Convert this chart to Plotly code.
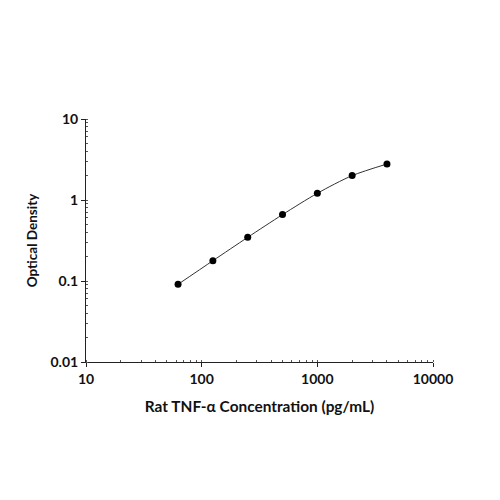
import plotly.graph_objects as go

concentration = [62.5, 125, 250, 500, 1000, 2000, 4000]
optical_density = [0.091, 0.178, 0.346, 0.66, 1.21, 2.0, 2.78]

x_ticks = [10, 100, 1000, 10000]
x_tick_labels = ["10", "100", "1000", "10000"]
y_ticks = [0.01, 0.1, 1, 10]
y_tick_labels = ["0.01", "0.1", "1", "10"]

font_family = "Lato"

fig = go.Figure()
fig.add_trace(go.Scatter(
    x=concentration, y=optical_density, mode="lines",
    line=dict(color="#333333", width=1, shape="spline", smoothing=0.8),
    showlegend=False, hoverinfo="skip"))
fig.add_trace(go.Scatter(
    x=concentration, y=optical_density, mode="markers",
    marker=dict(color="black", size=7),
    showlegend=False))

axis_common = dict(
    type="log", showgrid=False, zeroline=False, showline=True,
    linecolor="#222222", linewidth=1,
    ticks="outside", ticklen=4, tickcolor="#222222", tickwidth=1,
    minor=dict(ticks="inside", ticklen=2, tickcolor="#555555", dtick="D1", showgrid=False),
    tickfont=dict(family=font_family, size=14, color="#111111", weight=700),
)

fig.update_layout(
    width=500, height=500,
    margin=dict(l=78, r=75, t=111, b=146),
    plot_bgcolor="white", paper_bgcolor="white",
    xaxis=dict(
        range=[1, 4], tickvals=x_ticks, ticktext=x_tick_labels,
        title=dict(text="Rat TNF-α Concentration (pg/mL)", standoff=15,
                   font=dict(family=font_family, size=15.4, color="#111111", weight=700)),
        **axis_common),
    yaxis=dict(
        range=[-2, 1], tickvals=y_ticks, ticktext=y_tick_labels,
        title=dict(text="Optical Density", standoff=9,
                   font=dict(family=font_family, size=13.5, color="#111111", weight=700)),
        **axis_common),
)

fig.write_html("out.html")
